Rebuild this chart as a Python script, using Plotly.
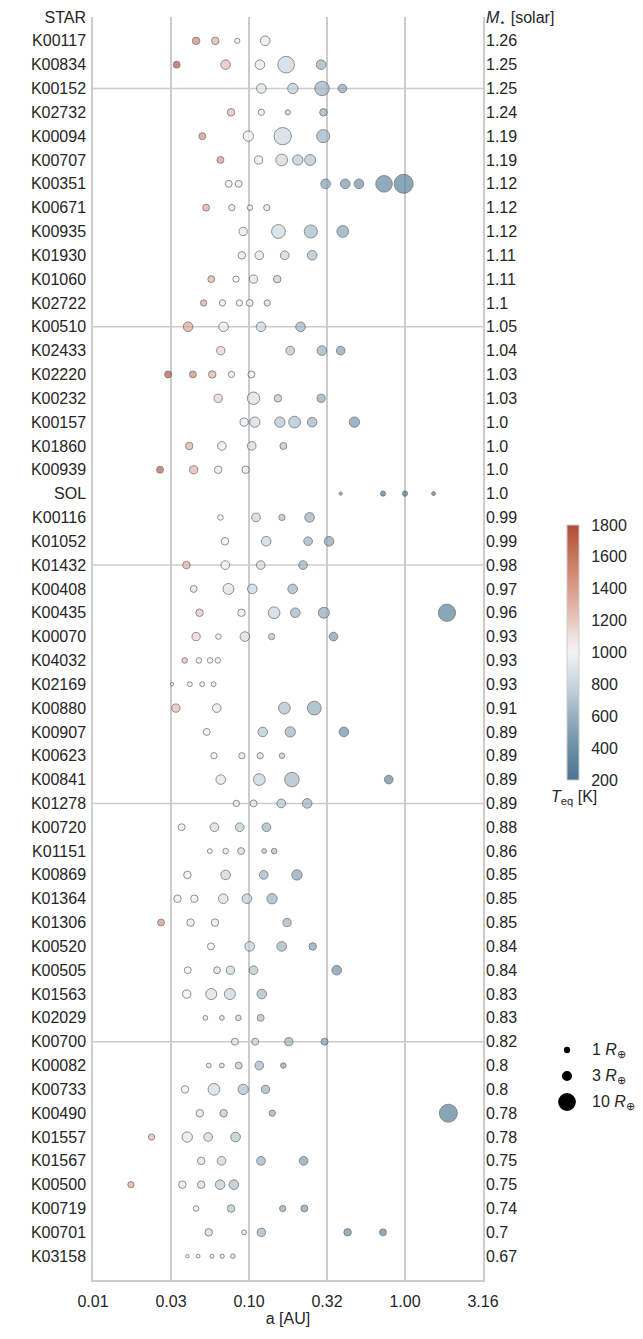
import numpy as np
import plotly.graph_objects as go

# ---------------- data ----------------
stars = ["K00117","K00834","K00152","K02732","K00094","K00707","K00351","K00671","K00935",
         "K01930","K01060","K02722","K00510","K02433","K02220","K00232","K00157","K01860",
         "K00939","SOL","K00116","K01052","K01432","K00408","K00435","K00070","K04032",
         "K02169","K00880","K00907","K00623","K00841","K01278","K00720","K01151","K00869",
         "K01364","K01306","K00520","K00505","K01563","K02029","K00700","K00082","K00733",
         "K00490","K01557","K01567","K00500","K00719","K00701","K03158"]

stellar_mass = ["1.26","1.25","1.25","1.24","1.19","1.19","1.12","1.12","1.12","1.11","1.11","1.1",
                "1.05","1.04","1.03","1.03","1.0","1.0","1.0","1.0","0.99","0.99","0.98","0.97",
                "0.96","0.93","0.93","0.93","0.91","0.89","0.89","0.89","0.89","0.88","0.86","0.85",
                "0.85","0.85","0.84","0.84","0.83","0.83","0.82","0.8","0.8","0.78","0.78","0.75",
                "0.75","0.74","0.7","0.67"]

a_au = [
    [0.0458, 0.0608, 0.0841, 0.127],
    [0.0344, 0.0708, 0.1175, 0.173, 0.290],
    [0.120, 0.191, 0.294, 0.397],
    [0.0767, 0.120, 0.1774, 0.300],
    [0.0502, 0.099, 0.1644, 0.299],
    [0.0656, 0.1153, 0.162, 0.2055, 0.2466],
    [0.0741, 0.0859, 0.310, 0.414, 0.507, 0.734, 0.980],
    [0.0531, 0.0776, 0.1015, 0.130],
    [0.0918, 0.1545, 0.249, 0.399],
    [0.090, 0.1164, 0.1695, 0.254],
    [0.0573, 0.0825, 0.1069, 0.1517],
    [0.0512, 0.0676, 0.0868, 0.1010, 0.131],
    [0.0407, 0.0687, 0.1194, 0.214],
    [0.0659, 0.1838, 0.293, 0.387],
    [0.0303, 0.0437, 0.0581, 0.0772, 0.1036],
    [0.0634, 0.1069, 0.1532, 0.290],
    [0.0931, 0.109, 0.1577, 0.196, 0.254, 0.474],
    [0.0414, 0.067, 0.104, 0.166],
    [0.0269, 0.0442, 0.0634, 0.0951],
    [0.387, 0.723, 1.0, 1.524],
    [0.0656, 0.111, 0.1626, 0.2445],
    [0.0701, 0.1288, 0.2393, 0.326],
    [0.0397, 0.0705, 0.1188, 0.222],
    [0.0442, 0.0738, 0.105, 0.1905],
    [0.0482, 0.0895, 0.1448, 0.198, 0.302, 1.857],
    [0.0458, 0.0637, 0.0941, 0.1397, 0.348],
    [0.0387, 0.0477, 0.0563, 0.0631],
    [0.0321, 0.0418, 0.0501, 0.0593],
    [0.034, 0.0621, 0.1686, 0.262],
    [0.0536, 0.1225, 0.1838, 0.406],
    [0.0596, 0.090, 0.118, 0.1626],
    [0.0659, 0.1164, 0.1884, 0.787],
    [0.083, 0.1069, 0.161, 0.236],
    [0.037, 0.060, 0.0872, 0.1294],
    [0.0561, 0.0708, 0.089, 0.125, 0.145],
    [0.0403, 0.0708, 0.1243, 0.203],
    [0.0348, 0.0446, 0.0684, 0.097, 0.1405],
    [0.0273, 0.0422, 0.0605, 0.1753],
    [0.057, 0.101, 0.162, 0.256],
    [0.0405, 0.0624, 0.076, 0.1069, 0.365],
    [0.0399, 0.0573, 0.0754, 0.1207],
    [0.0525, 0.067, 0.0855, 0.1188],
    [0.0812, 0.1096, 0.180, 0.305],
    [0.0552, 0.067, 0.0859, 0.1164, 0.166],
    [0.0389, 0.0596, 0.0918, 0.1276],
    [0.0484, 0.0687, 0.141, 1.897],
    [0.0237, 0.0402, 0.0547, 0.082],
    [0.0494, 0.0667, 0.1194, 0.224],
    [0.0175, 0.0374, 0.0494, 0.0653, 0.080],
    [0.0458, 0.0767, 0.1644, 0.2266],
    [0.0552, 0.0931, 0.120, 0.4285, 0.7226],
    [0.0403, 0.0472, 0.0578, 0.0673, 0.0788],
]

r_earth = [
    [2.0, 2.0, 0.95, 3.3],
    [1.7, 3.3, 3.3, 9.8, 3.3],
    [3.3, 3.8, 7.5, 2.6],
    [2.0, 1.4, 0.95, 2.0],
    [1.7, 3.8, 10.6, 6.1],
    [1.7, 2.4, 4.9, 3.8, 4.3],
    [1.7, 1.7, 3.3, 3.3, 3.3, 9.8, 12.9],
    [1.7, 1.4, 1.1, 1.4],
    [2.4, 6.8, 6.1, 4.9],
    [2.0, 2.7, 2.7, 3.3],
    [1.7, 1.4, 2.4, 2.0],
    [1.4, 1.4, 1.4, 1.7, 1.4],
    [3.3, 3.3, 3.3, 3.3],
    [2.4, 2.7, 3.3, 2.7],
    [1.7, 1.7, 2.0, 1.4, 1.7],
    [2.4, 5.5, 2.0, 2.4],
    [2.4, 3.8, 3.8, 4.9, 3.3, 3.8],
    [2.0, 2.7, 2.7, 1.7],
    [1.7, 2.4, 2.0, 2.0],
    [0.38, 0.95, 1.0, 0.53],
    [1.1, 2.7, 1.4, 3.3],
    [2.0, 3.3, 2.7, 3.3],
    [2.0, 2.7, 2.7, 2.7],
    [1.7, 4.3, 3.3, 3.3],
    [2.0, 2.0, 4.9, 3.3, 4.3, 10.6],
    [2.4, 1.1, 3.3, 1.4, 2.7],
    [1.1, 1.1, 1.1, 1.1],
    [0.42, 0.83, 0.83, 0.83],
    [2.4, 2.7, 4.9, 6.8],
    [1.7, 3.3, 3.8, 3.3],
    [1.4, 1.4, 1.4, 1.1],
    [3.3, 4.9, 7.5, 2.7],
    [1.4, 1.7, 2.7, 3.3],
    [1.7, 2.7, 2.7, 2.7],
    [0.83, 1.1, 1.7, 0.83, 1.1],
    [2.0, 3.3, 2.7, 3.8],
    [2.0, 2.0, 3.3, 3.3, 3.8],
    [1.7, 2.0, 2.0, 2.4],
    [1.7, 3.3, 3.3, 2.0],
    [1.7, 1.7, 2.4, 2.7, 3.3],
    [2.4, 4.3, 4.3, 3.3],
    [0.83, 0.83, 1.1, 1.7],
    [1.7, 1.7, 2.4, 1.7],
    [0.83, 0.83, 1.7, 2.7, 1.1],
    [2.0, 4.9, 3.8, 2.4],
    [2.0, 2.0, 1.4, 11.5],
    [1.4, 3.8, 2.7, 3.3],
    [2.0, 2.7, 2.7, 2.7],
    [1.4, 2.0, 2.0, 3.3, 3.3],
    [1.1, 2.0, 1.4, 1.7],
    [2.0, 0.83, 2.4, 2.0, 1.7],
    [0.4, 0.5, 0.55, 0.65, 0.74],
]

teq_k = [
    [1500, 1300, 1000, 950],
    [1750, 1250, 950, 800, 600],
    [900, 750, 600, 530],
    [1250, 950, 800, 600],
    [1450, 1000, 820, 620],
    [1400, 950, 830, 750, 720],
    [1000, 950, 500, 450, 420, 350, 300],
    [1350, 1050, 950, 900],
    [950, 820, 650, 530],
    [950, 900, 800, 680],
    [1300, 1000, 920, 780],
    [1350, 1050, 980, 950, 850],
    [1350, 1050, 820, 620],
    [1150, 720, 600, 520],
    [1750, 1500, 1300, 1050, 950],
    [1150, 880, 750, 550],
    [950, 850, 720, 680, 620, 450],
    [1300, 1050, 850, 720],
    [1700, 1300, 1050, 930],
    [440, 230, 255, 210],
    [1000, 800, 700, 600],
    [1000, 800, 600, 520],
    [1300, 1000, 820, 600],
    [1100, 880, 800, 620],
    [1200, 950, 800, 620, 550, 300],
    [1150, 1000, 850, 700, 480],
    [1250, 1050, 1000, 980],
    [1050, 1000, 980, 960],
    [1250, 950, 680, 580],
    [1000, 720, 620, 420],
    [1000, 920, 850, 750],
    [920, 780, 650, 350],
    [950, 900, 720, 620],
    [1000, 850, 750, 620],
    [980, 950, 850, 720, 700],
    [1000, 800, 620, 520],
    [1050, 980, 880, 770, 620],
    [1450, 1050, 950, 620],
    [1000, 780, 620, 520],
    [1000, 880, 820, 720, 420],
    [1000, 880, 800, 650],
    [950, 850, 800, 680],
    [900, 800, 620, 500],
    [900, 820, 750, 650, 520],
    [1000, 850, 680, 600],
    [900, 750, 600, 280],
    [1250, 920, 820, 720],
    [900, 800, 620, 500],
    [1350, 950, 850, 750, 700],
    [950, 720, 550, 480],
    [820, 900, 620, 400, 330],
    [1000, 980, 950, 900, 850],
]

xtick_vals = [0.01, 0.0316, 0.1, 0.316, 1.0, 3.16]
xtick_text = ["0.01", "0.03", "0.10", "0.32", "1.00", "3.16"]
cbar_ticks = [200, 400, 600, 800, 1000, 1200, 1400, 1600, 1800]
legend_radii = [1, 3, 10]

# ---------------- styling ----------------
W, H = 643, 1339
FONT = "Liberation Sans, Arial, sans-serif"
TXT = "#262626"
GRID = "#cccccc"
SIZE_K = 5.3  # marker diameter (px) per sqrt(R_earth)

colorscale = [
    [0.0, "#4a7590"], [0.125, "#6a8fa5"], [0.25, "#97b0bf"], [0.375, "#c8d6df"],
    [0.5, "#f3f3f3"], [0.5625, "#f0e2de"], [0.625, "#e8c7bd"], [0.75, "#d99c8b"],
    [0.875, "#c7765f"], [1.0, "#b24b34"],
]

# flatten planets
xs, ys, rs, ts = [], [], [], []
for i, name in enumerate(stars):
    for a, r, t in zip(a_au[i], r_earth[i], teq_k[i]):
        xs.append(a)
        ys.append(i + 1)
        rs.append(r)
        ts.append(t)

n_rows = len(stars) + 1
plot_l, plot_r, plot_t, plot_b = 93, 483, 17, 1280
xdom = [plot_l / W, plot_r / W]
ydom = [1 - plot_b / H, 1 - plot_t / H]


def px(x):
    return x / W


def py(y):
    return 1 - y / H


fig = go.Figure()

fig.add_trace(go.Scatter(
    x=xs, y=ys, mode="markers",
    marker=dict(
        size=[SIZE_K * np.sqrt(r) for r in rs],
        color=ts, colorscale=colorscale, cmin=200, cmax=1800,
        line=dict(color="rgba(70,70,70,0.85)", width=1),
        colorbar=dict(
            x=px(567), xanchor="left", xref="paper",
            y=py(652.5), yanchor="middle", yref="paper",
            thickness=12, thicknessmode="pixels",
            len=255, lenmode="pixels",
            outlinewidth=1, outlinecolor=GRID,
            tickvals=cbar_ticks, ticks="outside", ticklen=9, tickcolor="rgba(0,0,0,0)",
            tickfont=dict(family=FONT, size=16, color=TXT),
            xpad=0, ypad=0,
        ),
    ),
    hoverinfo="skip", showlegend=False,
))

# right-hand axis carrier (invisible)
fig.add_trace(go.Scatter(
    x=[0.1], y=[0], yaxis="y2", mode="markers",
    marker=dict(opacity=0), hoverinfo="skip", showlegend=False,
))

# size legend (shapes sized in pixels, anchored in paper space)
shapes = []
annotations = []
leg_y = [1050 + 26 * k for k in range(len(legend_radii))]
for r, yy in zip(legend_radii, leg_y):
    d = SIZE_K * np.sqrt(r) + 1
    shapes.append(dict(
        type="circle", xref="paper", yref="paper",
        xsizemode="pixel", ysizemode="pixel",
        xanchor=px(567), yanchor=py(yy),
        x0=-d / 2, x1=d / 2, y0=-d / 2, y1=d / 2,
        fillcolor="black", line=dict(width=0), layer="above",
    ))
    annotations.append(dict(
        x=px(590), y=py(yy), xref="paper", yref="paper", xanchor="left", yanchor="middle",
        text=f"{r} <i>R</i><sub>⊕</sub>", showarrow=False,
        font=dict(family=FONT, size=16, color=TXT),
    ))
annotations.append(dict(
    x=px(574), y=py(797), xref="paper", yref="paper", xanchor="center", yanchor="middle",
    text="<i>T</i><sub>eq</sub> [K]", showarrow=False,
    font=dict(family=FONT, size=16, color=TXT),
))

for gy in range(3, n_rows, 10):
    shapes.append(dict(type="line", xref="x domain", yref="y", x0=0, x1=1, y0=gy, y1=gy,
                       line=dict(color=GRID, width=1.5), layer="below"))

ytick_vals = list(range(n_rows))
fig.update_layout(
    width=W, height=H, autosize=False,
    margin=dict(l=0, r=0, t=0, b=0, autoexpand=False),
    paper_bgcolor="white", plot_bgcolor="rgba(0,0,0,0)",
    font=dict(family=FONT, size=16, color=TXT),
    xaxis=dict(
        domain=xdom, type="log", range=[-2, 0.5],
        tickvals=xtick_vals, ticktext=xtick_text, ticks="",
        showgrid=True, gridcolor=GRID, gridwidth=1.5,
        showline=True, linecolor=GRID, linewidth=1.5,
        zeroline=False, ticklabelstandoff=6, automargin=False,
        tickfont=dict(size=16, color=TXT),
        title=dict(text="a [AU]", font=dict(size=16, color=TXT), standoff=4),
        anchor="y",
    ),
    yaxis=dict(
        domain=ydom, range=[n_rows, 0],
        tickvals=ytick_vals, ticktext=["STAR"] + stars, ticks="",
        showgrid=False, zeroline=False, automargin=False,
        showline=True, mirror=True, linecolor=GRID, linewidth=1.5,
        tickfont=dict(size=16, color=TXT), ticklabelstandoff=2,
        anchor="x",
    ),
    yaxis2=dict(
        overlaying="y", side="right", range=[n_rows, 0],
        tickvals=ytick_vals,
        ticktext=["<i>M</i><sub>⋆</sub> [solar]"] + stellar_mass, ticks="",
        showgrid=False, zeroline=False, showline=False, automargin=False,
        tickfont=dict(size=16, color=TXT), ticklabelstandoff=2,
        anchor="x",
    ),
    shapes=shapes,
    annotations=annotations,
)

fig.write_html("out.html")
